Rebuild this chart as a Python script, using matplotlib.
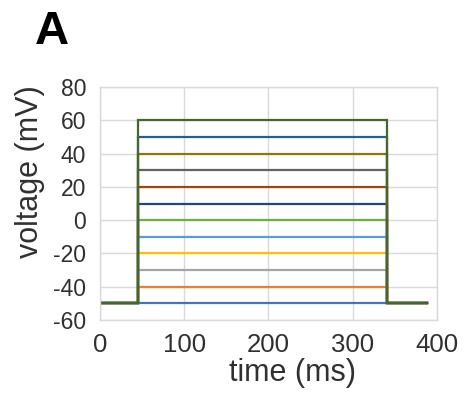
import matplotlib
matplotlib.use("Agg")
import matplotlib.pyplot as plt

plt.rcParams['font.family'] = ['Liberation Sans', 'DejaVu Sans']
plt.rcParams['axes.unicode_minus'] = False

# voltage-step protocol: hold at -50 mV, step, return to hold
time_ms = [0, 45, 45, 341, 341, 388]
hold_mv = -50
step_mv = [-50, -40, -30, -20, -10, 0, 10, 20, 30, 40, 50, 60]
colors = ['#4472C4', '#ED7D31', '#A5A5A5', '#FFC000', '#5B9BD5', '#70AD47',
          '#264478', '#9E480E', '#636363', '#997300', '#255E91', '#43682B']

fig = plt.figure(figsize=(4.71, 4.0), dpi=100)
ax = fig.add_axes([0.2123, 0.2, 0.7155, 0.5825])

for v, c in zip(step_mv, colors):
    volts = [hold_mv, hold_mv, v, v, hold_mv, hold_mv]
    ax.plot(time_ms, volts, color=c, linewidth=1.6, solid_joinstyle='miter')

ax.set_xlim(0, 400)
ax.set_ylim(-60, 80)
ax.set_xticks([0, 100, 200, 300, 400])
ax.set_yticks(range(-60, 81, 20))
ax.grid(True, color='#D9D9D9', linewidth=1.0)
ax.set_axisbelow(True)
for s in ax.spines.values():
    s.set_color('#D9D9D9')
    s.set_linewidth(1.0)
ax.tick_params(axis='both', length=0, colors='#303030')
ax.tick_params(axis='y', labelsize=16.5, pad=10)
ax.tick_params(axis='x', labelsize=18.5, pad=9)

ax.set_xlabel('time (ms)', fontsize=22, color='#303030', labelpad=0)
ax.xaxis.set_label_coords(0.57, -0.165)
ax.set_ylabel('voltage (mV)', fontsize=22, color='#303030')
ax.yaxis.set_label_coords(-0.163, 0.635)

fig.text(0.074, 0.89, 'A', fontsize=34, fontweight='bold', ha='left', va='baseline')

fig.savefig('out.png', dpi=100)
